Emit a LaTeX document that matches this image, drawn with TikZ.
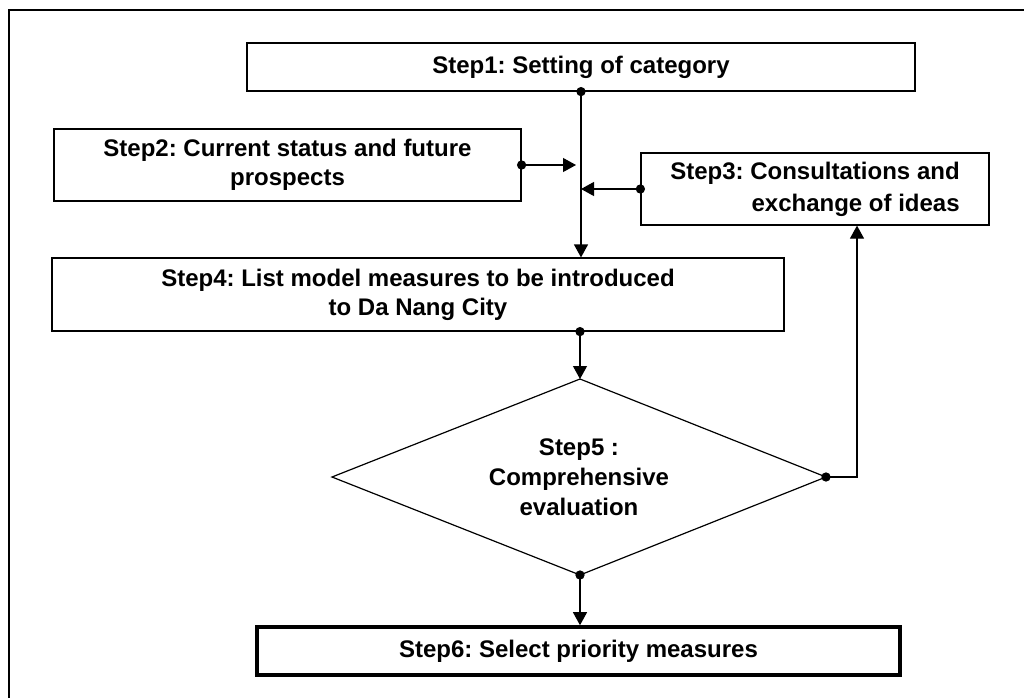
\documentclass[tikz,border=0pt]{standalone}
\usepackage{fontspec}
\setmainfont{Liberation Sans}
\usetikzlibrary{arrows.meta}
\begin{document}
\frenchspacing
\begin{tikzpicture}[x=0.5pt,y=-0.5pt,
  box/.style={draw,line width=0.6pt,inner sep=0pt,align=center,font=\bfseries\fontsize{12pt}{14.5pt}\selectfont},
  link/.style={line width=0.6pt,shorten <=-2.3pt,{Circle[length=4.6pt]}-{Triangle[length=6.5pt,width=7pt]}}]
\useasboundingbox (0,0) rectangle (1024,697);
% outer frame (partly outside the page)
\draw[line width=0.8pt] (9,1200) -- (9,10) -- (1400,10);
% nodes
\node[box,minimum width=334pt,minimum height=24pt] (s1) at (581,67) {Step1: Setting of category};
\node[box,minimum width=233.5pt,minimum height=36pt] (s2) at (287.5,165) {Step2: Current status and future\\prospects};
\node[box,minimum width=174pt,minimum height=36pt,align=right,
      font=\bfseries\fontsize{12pt}{16pt}\selectfont] (s3) at (815,189) {Step3: Consultations and\\exchange of ideas};
\node[box,minimum width=366pt,minimum height=36.5pt] (s4) at (418,294.5) {Step4: List model measures to be introduced\\to Da Nang City};
\coordinate (d5t) at (580,379);
\coordinate (d5b) at (580,575);
\coordinate (d5l) at (332,477);
\coordinate (d5r) at (826,477);
\draw[line width=0.6pt] (d5t) -- (d5r) -- (d5b) -- (d5l) -- cycle;
\node[inner sep=0pt,align=center,font=\bfseries\fontsize{12pt}{15pt}\selectfont] (s5) at (579,477) {Step5 :\\Comprehensive\\evaluation};
\node[box,line width=1.8pt,minimum width=321.5pt,minimum height=24pt] (s6) at (578.5,651) {Step6: Select priority measures};
\coordinate (c3) at (857,477);
% connectors
\draw[link] (s1.south) -- (s1.south |- s4.north);
\draw[link] (s2.east) -- ([xshift=-2.5pt]s2.east -| s1.south);
\draw[link] (s3.west) -- (s3.west -| s1.south);
\draw[link] (s4.south -| d5t) -- (d5t);
\draw[link] (d5r) -- (c3) -- (s3.south -| c3);
\draw[link] (d5b) -- (s6.north -| d5b);
\end{tikzpicture}
\end{document}
